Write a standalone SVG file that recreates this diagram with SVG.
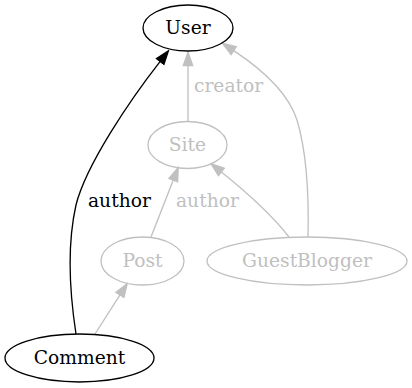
<svg xmlns="http://www.w3.org/2000/svg" width="412" height="388" viewBox="0 0 412 388">
<style>
text{font-family:"DejaVu Serif","Liberation Serif",serif;font-size:18.67px}
.n ellipse{fill:none;stroke-width:1.33}
.blk ellipse{stroke:#000}
.blk text{fill:#000;text-anchor:middle}
.gry ellipse{stroke:#c0c0c0}
.gry text{fill:#c0c0c0;text-anchor:middle}
.e{fill:none;stroke-width:1.33}
.eb{stroke:#000;marker-end:url(#ab)}
.eg{stroke:#c0c0c0;marker-end:url(#ag)}
.lb{fill:#000}
.lg{fill:#c0c0c0}
</style>
<defs>
<marker id="ab" viewBox="-1 -6 16 12" refX="0" refY="0" markerWidth="16" markerHeight="12" markerUnits="userSpaceOnUse" orient="auto">
<path d="M0,-4.7 L13.3,0 L0,4.7 Z" fill="#000" stroke="#000" stroke-width="1.33"/>
</marker>
<marker id="ag" viewBox="-1 -6 16 12" refX="0" refY="0" markerWidth="16" markerHeight="12" markerUnits="userSpaceOnUse" orient="auto">
<path d="M0,-4.7 L13.3,0 L0,4.7 Z" fill="#c0c0c0" stroke="#c0c0c0" stroke-width="1.33"/>
</marker>
</defs>
<g id="edges">
<path class="e eg" d="M188,122 L188,65.5"/>
<path class="e eb" d="M76,334 C70,295 67,245 76,205 C86,165 130,100 160.2,61.4"/>
<path class="e eg" d="M151,237 L173.3,180.1"/>
<path class="e eg" d="M289,237 C272,215 250,195 221.4,172"/>
<path class="e eg" d="M308,237 C309,195 306,150 297,120 C288,92 260,68 233.7,50.6"/>
<path class="e eg" d="M95,334 L120,294.9"/>
<text class="lg" x="194" y="92">creator</text>
<text class="lb" x="88" y="207">author</text>
<text class="lg" x="176" y="207">author</text>
</g>
<g id="User" class="n blk"><ellipse cx="188" cy="28" rx="45" ry="23"/><text x="188" y="34">User</text></g>
<g id="Site" class="n gry"><ellipse cx="187.5" cy="145" rx="39.5" ry="23.5"/><text x="187.5" y="151">Site</text></g>
<g id="Post" class="n gry"><ellipse cx="142.5" cy="261" rx="41.5" ry="24"/><text x="142.5" y="267">Post</text></g>
<g id="GuestBlogger" class="n gry"><ellipse cx="307" cy="261" rx="100" ry="24"/><text x="307" y="267">GuestBlogger</text></g>
<g id="Comment" class="n blk"><ellipse cx="79.5" cy="358" rx="74.5" ry="24"/><text x="79.5" y="364">Comment</text></g>
</svg>
